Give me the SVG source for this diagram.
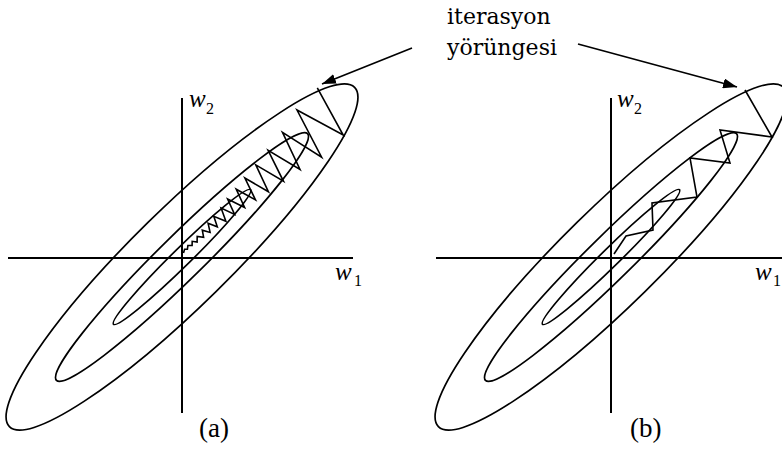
<svg xmlns="http://www.w3.org/2000/svg" width="782" height="450" viewBox="0 0 782 450">
<style>
.ln{fill:none;stroke:#000;stroke-width:1.7;stroke-linejoin:miter}
.ax{fill:none;stroke:#000;stroke-width:2}
.zz{fill:none;stroke:#000;stroke-width:1.6;stroke-linejoin:miter}
.lbl{font-family:"DejaVu Serif",serif;font-size:22px;fill:#000}
.cap{font-family:"Liberation Serif",serif;font-size:27px;fill:#000}
.w{font-family:"Liberation Serif",serif;font-style:italic;font-size:25px;fill:#000}
.sub{font-family:"Liberation Serif",serif;font-size:16px;fill:#000}
</style>
<defs>
<marker id="ah" viewBox="0 0 14 10" refX="14" refY="5" markerWidth="14" markerHeight="10" markerUnits="userSpaceOnUse" orient="auto">
<path d="M0,0 L14,5 L0,10 Z" fill="#000"/>
</marker>
<g id="ellipses">
<ellipse cx="0" cy="0" rx="242" ry="48.5" class="ln"/>
<ellipse cx="0" cy="0" rx="176" ry="22" class="ln"/>
<ellipse cx="0" cy="0" rx="96" ry="9" class="ln"/>
</g>
</defs>
<g id="panel-a">
<use href="#ellipses" transform="translate(182,257) rotate(-44.5)"/>
<line x1="182" y1="98" x2="182" y2="413" class="ax"/>
<line x1="8" y1="258" x2="353" y2="258" class="ax"/>
<polyline class="zz" points="317.3,87.8 343.2,135 297,110 321.6,157.2 282.5,132.3 300,169.5 268.1,150.3 283.5,181.3 255.8,164.9 268.4,191.7 244.9,178.1 255.5,199.9 236.2,189.2 244.6,207.5 227.6,199 234.6,214.4 221.1,208 225.9,221.3 213.8,216.3 217.3,226.8 208.1,223.3 210.1,232.4 202.3,230.2 203.6,237.2 197.2,236.4 197.1,242 192.2,241.3 192.1,245.5 187.9,245.5 187.4,249.3 184.6,249.3 183.5,253"/>
<text class="w" x="189" y="107">w</text><text class="sub" x="206" y="114">2</text>
<text class="w" x="335" y="280">w</text><text class="sub" x="354" y="286">1</text>
<text class="cap" x="199" y="437">(a)</text>
</g>
<g id="panel-b">
<use href="#ellipses" transform="translate(611,257) rotate(-44.5)"/>
<line x1="611" y1="98" x2="611" y2="413" class="ax"/>
<line x1="436" y1="258" x2="782" y2="258" class="ax"/>
<polyline class="zz" points="745,90 772,137 720,130 730,163 690,158 697,197 652,203 653,230 626,236 614,254"/>
<text class="w" x="617" y="107">w</text><text class="sub" x="634" y="114">2</text>
<text class="w" x="755" y="280">w</text><text class="sub" x="773" y="286">1</text>
<text class="cap" x="630" y="437">(b)</text>
</g>
<g id="label">
<text class="lbl" x="447" y="24">iterasyon</text>
<text class="lbl" x="447" y="55">yörüngesi</text>
</g>
<g id="connectors">
<line x1="412" y1="48" x2="322" y2="84" class="ln" marker-end="url(#ah)"/>
<line x1="578" y1="44" x2="737" y2="87" class="ln" marker-end="url(#ah)"/>
</g>
</svg>
